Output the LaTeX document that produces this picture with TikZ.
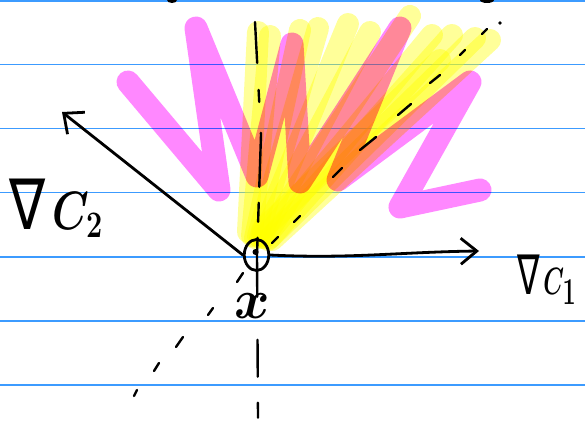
\documentclass[tikz,border=0pt]{standalone}
\usepackage{fontspec}
\newfontfamily\djv{DejaVu Sans}
\usetikzlibrary{arrows.meta,shapes.geometric}
\definecolor{ruleblue}{RGB}{60,155,255}
\definecolor{hlpink}{RGB}{255,136,255}
\definecolor{hlyellow}{RGB}{255,255,0}
\begin{document}
\begin{tikzpicture}[x=1pt,y=-1pt,
  rule/.style={draw=ruleblue, line width=1.3pt},
  hly/.style={draw=hlyellow, line width=22pt, line cap=round, draw opacity=0.4},
  hlp/.style={draw=hlpink, line width=23pt, line cap=round, line join=round},
  ink/.style={line width=2.8pt, line cap=round, line join=round},
  dashink/.style={line width=2.4pt, line cap=round},
  lbl/.style={inner sep=0pt, transform shape, font=\fontsize{20}{24}\selectfont\boldmath}]
\useasboundingbox (0,0) rectangle (585,422);
\fill[white] (0,0) rectangle (585,422);
% ruled paper
\foreach \yy in {1,64.5,128.5,192.7,257,321,385}
  \draw[rule] (0,\yy) -- (585,\yy);
% yellow highlighted cone
\foreach \sx/\sy/\ex/\ey in {248/232/258/32, 252/236/270/36, 255/238/300/30, 258/236/318/28,
    260/238/348/24, 262/236/370/32, 264/238/410/16, 266/236/432/35,
    268/240/452/35, 270/238/475/38, 272/240/490/40, 262/230/440/60}
  \draw[hly] (\sx,\sy) -- (\ex,\ey);
% pink zigzag
\begin{scope}[blend mode=multiply]
\draw[hlp] (128,82) -- (219,190) -- (196,28) -- (257,176) -- (292,44) -- (300,182)
  -- (400,28) -- (338,180) -- (470,82) -- (400,207) -- (480,190);
\end{scope}
% dashed lines
\draw[dashink, dash pattern=on 41pt off 27pt on 12pt off 31pt on 54pt off 16pt on 19pt off 16pt on 59pt off 43pt on 37pt off 26pt on 15pt off 50pt]
  (255,22) -- (261,135) -- (257,255) -- (258,418);
\foreach \ax/\ay/\bx/\by in {482/34/487/29, 460/55/465/50, 430/83/440/75, 398/115/411/104,
    360/150/376/137, 333/177/342/168, 294/222/300/216, 272/243/278/237,
    237/282/243/273, 208/315/213/308, 176/347/183/337, 154/371/159/363, 134/396/137/390}
  \draw[dashink] (\ax,\ay) -- (\bx,\by);
\fill (500,23) circle (1.8pt);
\fill (172,0) ellipse (5pt and 3pt);
\fill (487,0) ellipse (7pt and 3pt);
% point x
\node[draw, ellipse, ink, minimum width=24.5pt, minimum height=31pt, inner sep=0pt] (x0) at (256.5,255) {};
\fill (255.5,252) circle (3pt);
\coordinate (c1tip) at (479,251);
\coordinate (c2tip) at (62,112);
\draw[ink, -{Straight Barb[length=16pt,width=26pt]}] (x0.east) .. controls (350,259) and (400,252) .. (c1tip);
\draw[ink, -{Straight Barb[length=16pt,width=28pt]}] (x0.west) -- (c2tip);
% labels
\begin{scope}[shift={(9,229)}, xscale=2.0, yscale=2.6]
\node[lbl, anchor=base west] (g2) at (0,0) {{\fontsize{27}{30}\selectfont\djv ∇}\,$C_{2}$};
\end{scope}
\begin{scope}[shift={(517,294)}, xscale=1.35, yscale=2.2]
\node[lbl, anchor=base west] (g1) at (0,0) {{\fontsize{25}{28}\selectfont\djv ∇}{\fontsize{16}{18}\selectfont\,$C_{\textstyle 1}$}};
\end{scope}
\begin{scope}[shift={(252,306)}, xscale=2.6, yscale=2.7]
\node[lbl] (xl) at (0,0) {$x$};
\end{scope}
\end{tikzpicture}
\end{document}
